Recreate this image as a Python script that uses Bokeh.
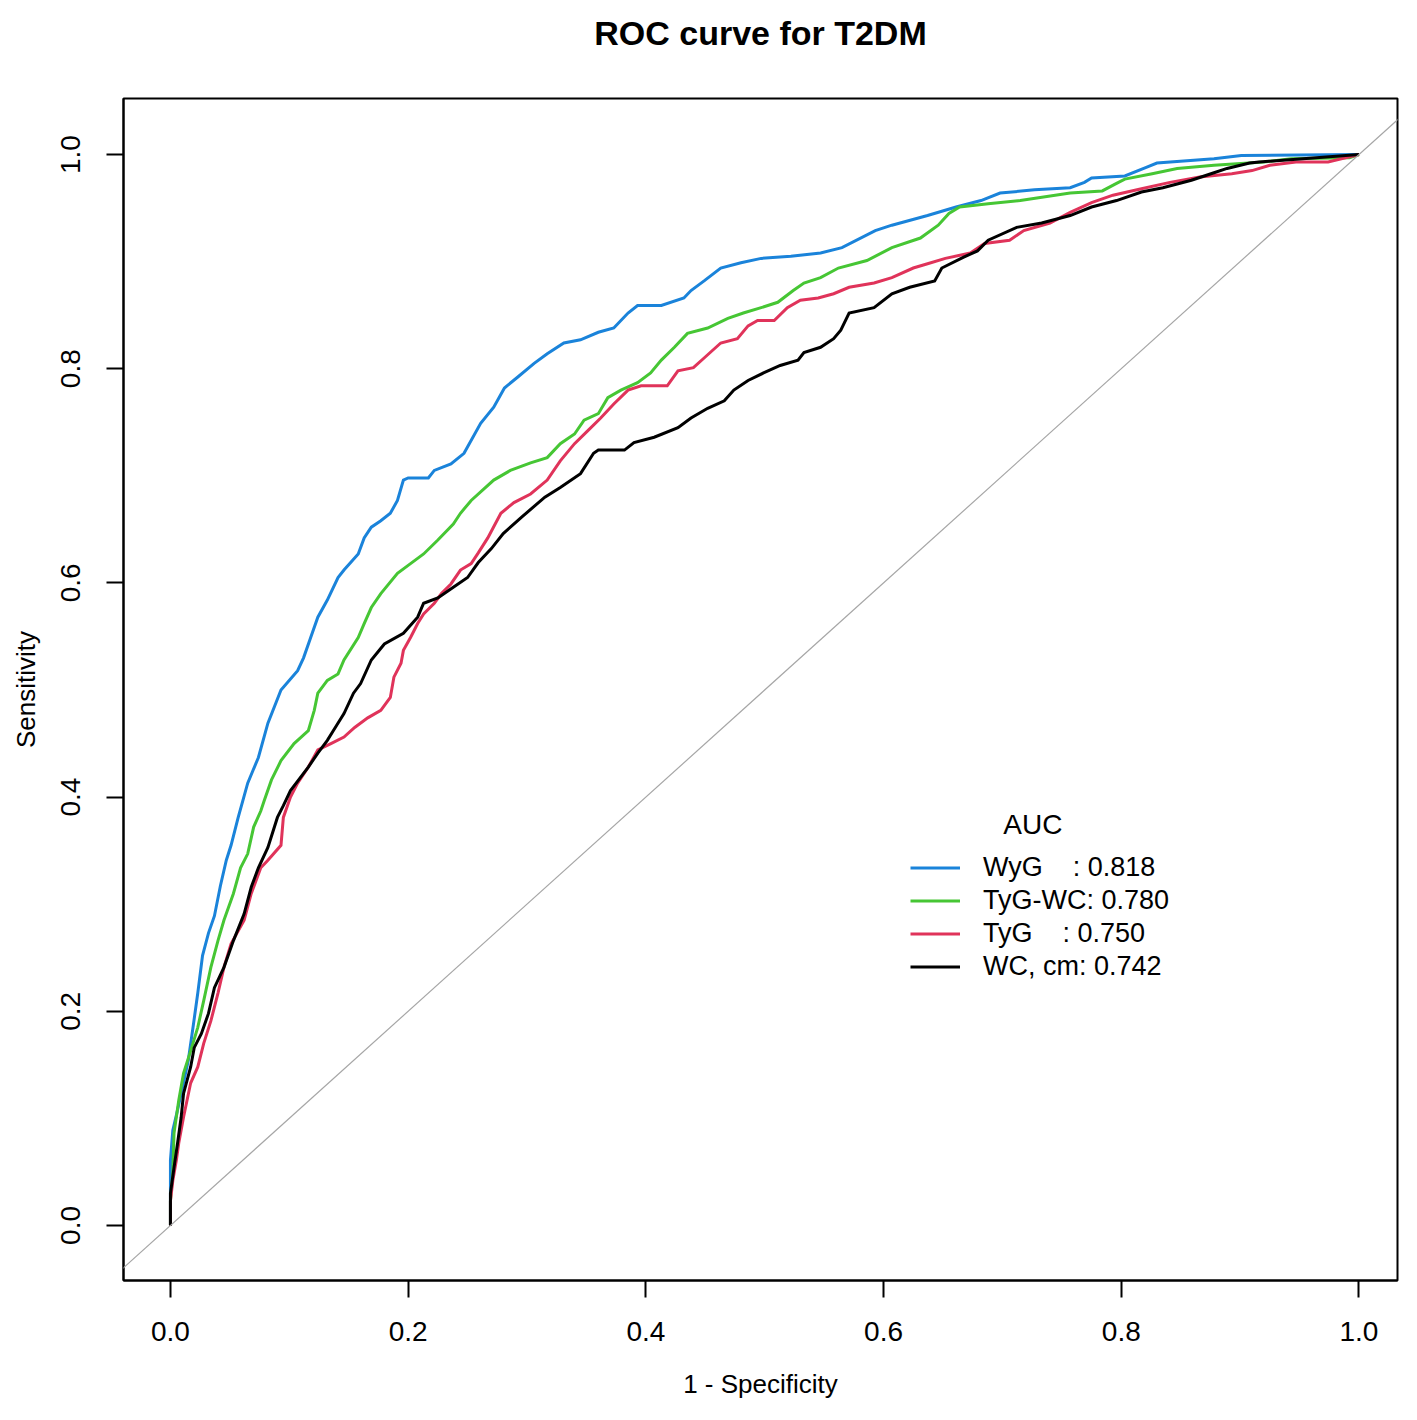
from bokeh.plotting import figure
from bokeh.models import Range1d, FixedTicker, Legend, LegendItem, Slope, NumeralTickFormatter, Title
from bokeh.embed import file_html
from bokeh.resources import INLINE

# ---- data (1 - specificity, sensitivity) ----
fpr_wyg = [0.000, 0.000, 0.002, 0.005, 0.009, 0.015, 0.019, 0.023, 0.027, 0.032, 0.037, 0.042, 0.047, 0.051,
           0.057, 0.065, 0.074, 0.082, 0.093, 0.107, 0.112, 0.118, 0.124, 0.132, 0.141, 0.146, 0.158, 0.163,
           0.169, 0.177, 0.185, 0.191, 0.196, 0.200, 0.217, 0.222, 0.236, 0.247, 0.261, 0.272, 0.281, 0.292,
           0.306, 0.317, 0.331, 0.345, 0.360, 0.373, 0.385, 0.393, 0.413, 0.432, 0.438, 0.449, 0.463, 0.480,
           0.497, 0.522, 0.547, 0.565, 0.593, 0.607, 0.637, 0.661, 0.682, 0.698, 0.727, 0.757, 0.769, 0.775,
           0.803, 0.821, 0.830, 0.878, 0.901, 1.000]
tpr_wyg = [0.000, 0.061, 0.089, 0.103, 0.123, 0.154, 0.185, 0.217, 0.252, 0.273, 0.289, 0.317, 0.341, 0.355,
           0.381, 0.413, 0.437, 0.469, 0.500, 0.518, 0.530, 0.549, 0.568, 0.584, 0.605, 0.612, 0.627, 0.642,
           0.652, 0.658, 0.665, 0.677, 0.696, 0.698, 0.698, 0.705, 0.711, 0.721, 0.749, 0.764, 0.782, 0.792,
           0.805, 0.814, 0.824, 0.827, 0.834, 0.838, 0.852, 0.859, 0.859, 0.866, 0.873, 0.882, 0.894, 0.899,
           0.903, 0.905, 0.908, 0.913, 0.929, 0.934, 0.943, 0.951, 0.957, 0.964, 0.967, 0.969, 0.974, 0.978,
           0.980, 0.988, 0.992, 0.996, 0.999, 1.000]

fpr_tygwc = [0.000, 0.000, 0.002, 0.003, 0.007, 0.011, 0.017, 0.023, 0.028, 0.034, 0.040, 0.045, 0.053, 0.059,
             0.065, 0.070, 0.076, 0.079, 0.085, 0.093, 0.104, 0.110, 0.116, 0.121, 0.124, 0.132, 0.141, 0.146,
             0.158, 0.163, 0.169, 0.177, 0.191, 0.202, 0.213, 0.225, 0.238, 0.244, 0.253, 0.272, 0.286, 0.303,
             0.317, 0.328, 0.340, 0.348, 0.360, 0.368, 0.379, 0.393, 0.404, 0.413, 0.424, 0.435, 0.452, 0.469,
             0.482, 0.497, 0.511, 0.524, 0.533, 0.547, 0.562, 0.586, 0.607, 0.631, 0.646, 0.655, 0.664, 0.688,
             0.715, 0.757, 0.784, 0.796, 0.803, 0.826, 0.847, 0.878, 0.920, 0.943, 0.992, 1.000]
tpr_tygwc = [0.000, 0.023, 0.049, 0.086, 0.117, 0.142, 0.163, 0.185, 0.210, 0.241, 0.266, 0.285, 0.310, 0.334,
             0.347, 0.372, 0.387, 0.397, 0.416, 0.434, 0.450, 0.456, 0.462, 0.481, 0.497, 0.509, 0.515, 0.528,
             0.549, 0.562, 0.577, 0.590, 0.609, 0.618, 0.627, 0.640, 0.655, 0.665, 0.677, 0.696, 0.705, 0.712,
             0.717, 0.730, 0.739, 0.752, 0.758, 0.773, 0.780, 0.787, 0.796, 0.808, 0.820, 0.833, 0.838, 0.847,
             0.852, 0.857, 0.862, 0.873, 0.880, 0.885, 0.894, 0.901, 0.913, 0.922, 0.934, 0.945, 0.951, 0.954,
             0.957, 0.964, 0.966, 0.973, 0.977, 0.982, 0.987, 0.990, 0.993, 0.996, 0.997, 1.000]

fpr_tyg = [0.000, 0.000, 0.002, 0.005, 0.007, 0.011, 0.017, 0.023, 0.028, 0.034, 0.040, 0.045, 0.051, 0.062,
           0.068, 0.076, 0.082, 0.093, 0.095, 0.101, 0.107, 0.116, 0.124, 0.135, 0.146, 0.155, 0.166, 0.177,
           0.185, 0.188, 0.194, 0.196, 0.202, 0.208, 0.213, 0.222, 0.228, 0.236, 0.244, 0.253, 0.259, 0.267,
           0.278, 0.289, 0.303, 0.317, 0.328, 0.340, 0.351, 0.362, 0.373, 0.385, 0.396, 0.418, 0.427, 0.440,
           0.449, 0.463, 0.477, 0.486, 0.494, 0.508, 0.519, 0.530, 0.545, 0.558, 0.571, 0.592, 0.607, 0.625,
           0.637, 0.652, 0.673, 0.685, 0.706, 0.718, 0.740, 0.757, 0.775, 0.793, 0.817, 0.841, 0.866, 0.893,
           0.910, 0.925, 0.947, 0.974, 1.000]
tpr_tyg = [0.000, 0.023, 0.042, 0.061, 0.077, 0.101, 0.133, 0.148, 0.170, 0.191, 0.217, 0.241, 0.263, 0.285,
           0.310, 0.334, 0.341, 0.355, 0.381, 0.400, 0.413, 0.428, 0.444, 0.450, 0.456, 0.465, 0.474, 0.481,
           0.493, 0.512, 0.525, 0.537, 0.549, 0.562, 0.571, 0.581, 0.590, 0.599, 0.612, 0.618, 0.628, 0.642,
           0.665, 0.675, 0.683, 0.696, 0.714, 0.730, 0.742, 0.754, 0.767, 0.780, 0.784, 0.784, 0.798, 0.801,
           0.810, 0.824, 0.828, 0.840, 0.845, 0.845, 0.857, 0.864, 0.866, 0.870, 0.876, 0.880, 0.885, 0.894,
           0.898, 0.903, 0.908, 0.917, 0.920, 0.929, 0.936, 0.946, 0.955, 0.962, 0.968, 0.974, 0.979, 0.982,
           0.985, 0.990, 0.993, 0.993, 1.000]

fpr_wc = [0.000, 0.000, 0.003, 0.006, 0.009, 0.011, 0.017, 0.020, 0.026, 0.032, 0.037, 0.045, 0.053, 0.062,
          0.068, 0.074, 0.082, 0.090, 0.095, 0.101, 0.116, 0.124, 0.132, 0.137, 0.146, 0.154, 0.160, 0.169,
          0.180, 0.196, 0.208, 0.213, 0.225, 0.238, 0.250, 0.259, 0.270, 0.280, 0.295, 0.315, 0.328, 0.345,
          0.356, 0.360, 0.382, 0.390, 0.407, 0.427, 0.438, 0.452, 0.466, 0.474, 0.486, 0.499, 0.513, 0.528,
          0.533, 0.547, 0.558, 0.564, 0.571, 0.592, 0.607, 0.622, 0.643, 0.649, 0.667, 0.679, 0.688, 0.712,
          0.733, 0.757, 0.775, 0.796, 0.817, 0.835, 0.859, 0.878, 0.889, 0.908, 0.916, 1.000]
tpr_wc = [0.000, 0.030, 0.054, 0.077, 0.101, 0.123, 0.148, 0.166, 0.179, 0.198, 0.222, 0.241, 0.266, 0.291,
          0.316, 0.334, 0.353, 0.381, 0.392, 0.406, 0.428, 0.441, 0.453, 0.462, 0.478, 0.497, 0.506, 0.528,
          0.543, 0.553, 0.568, 0.581, 0.586, 0.596, 0.605, 0.619, 0.632, 0.646, 0.661, 0.680, 0.689, 0.702,
          0.721, 0.724, 0.724, 0.731, 0.736, 0.745, 0.754, 0.763, 0.770, 0.780, 0.789, 0.796, 0.803, 0.808,
          0.815, 0.820, 0.828, 0.836, 0.852, 0.857, 0.870, 0.876, 0.882, 0.894, 0.904, 0.910, 0.920, 0.932,
          0.936, 0.943, 0.951, 0.957, 0.965, 0.969, 0.976, 0.983, 0.987, 0.992, 0.993, 1.000]

series_labels = ["WyG\u00a0\u00a0\u00a0 : 0.818", "TyG-WC: 0.780", "TyG\u00a0\u00a0\u00a0 : 0.750", "WC, cm: 0.742"]
series_colors = ["#1A83DA", "#46C634", "#E0335A", "#000000"]
tick_values = [0.0, 0.2, 0.4, 0.6, 0.8, 1.0]
title_text = "ROC curve for T2DM"

FONT = "Liberation Sans"

p = figure(width=1401, height=1404, output_backend="svg", toolbar_location=None,
           x_range=Range1d(-0.0395, 1.0324), y_range=Range1d(-0.0514, 1.0523),
           min_border_left=123, min_border_right=4, min_border_top=98, min_border_bottom=124)
p.background_fill_color = "white"
p.border_fill_color = "white"
p.grid.visible = False
p.outline_line_color = "black"
p.outline_line_width = 2

for ax in (p.xaxis[0], p.yaxis[0]):
    ax.ticker = FixedTicker(ticks=tick_values)
    ax.formatter = NumeralTickFormatter(format="0.0")
    ax.axis_line_color = "black"
    ax.axis_line_width = 2
    ax.major_tick_line_color = "black"
    ax.major_tick_line_width = 2
    ax.major_tick_out = 17
    ax.major_tick_in = 0
    ax.minor_tick_out = 0
    ax.minor_tick_in = 0
    ax.major_label_text_font = FONT
    ax.major_label_text_font_size = "28px"
    ax.major_label_text_color = "black"
    ax.axis_label_text_font = FONT
    ax.axis_label_text_font_size = "26px"
    ax.axis_label_text_font_style = "normal"
    ax.axis_label_text_color = "black"

p.xaxis.axis_label = "1 - Specificity"
p.yaxis.axis_label = "Sensitivity"
p.xaxis.major_label_standoff = 24
p.yaxis.major_label_standoff = 26
p.yaxis.major_label_orientation = "vertical"
p.xaxis.axis_label_standoff = 25
p.yaxis.axis_label_standoff = 18

# chance diagonal
p.add_layout(Slope(gradient=1, y_intercept=0, line_color="#a6a6a6", line_width=1.2))

fprs = [fpr_wyg, fpr_tygwc, fpr_tyg, fpr_wc]
tprs = [tpr_wyg, tpr_tygwc, tpr_tyg, tpr_wc]
items = []
for fx, ty, lab, col in zip(fprs, tprs, series_labels, series_colors):
    r = p.line(fx, ty, line_color=col, line_width=3, line_join="miter")
    items.append(LegendItem(label=lab, renderers=[r]))

legend = Legend(items=items, location=(787, 297),
                title="\u00a0" * 12 + "AUC",
                title_text_font=FONT, title_text_font_size="28px", title_text_font_style="normal",
                title_text_color="black", title_standoff=10,
                label_text_font=FONT, label_text_font_size="27px", label_text_color="black",
                glyph_width=50, glyph_height=33, label_height=33, label_standoff=23,
                spacing=0, padding=0, margin=0,
                border_line_alpha=0, background_fill_alpha=0)
p.add_layout(legend, "center")

# invisible spacer between frame and title, then the title itself
p.add_layout(Title(text="\u00a0", text_font_size="1px", standoff=44), "above")
p.add_layout(Title(text=title_text, align="center", standoff=0,
                   text_font=FONT, text_font_size="34px", text_font_style="bold",
                   text_color="black"), "above")

open("out.html", "w").write(file_html(p, INLINE))
